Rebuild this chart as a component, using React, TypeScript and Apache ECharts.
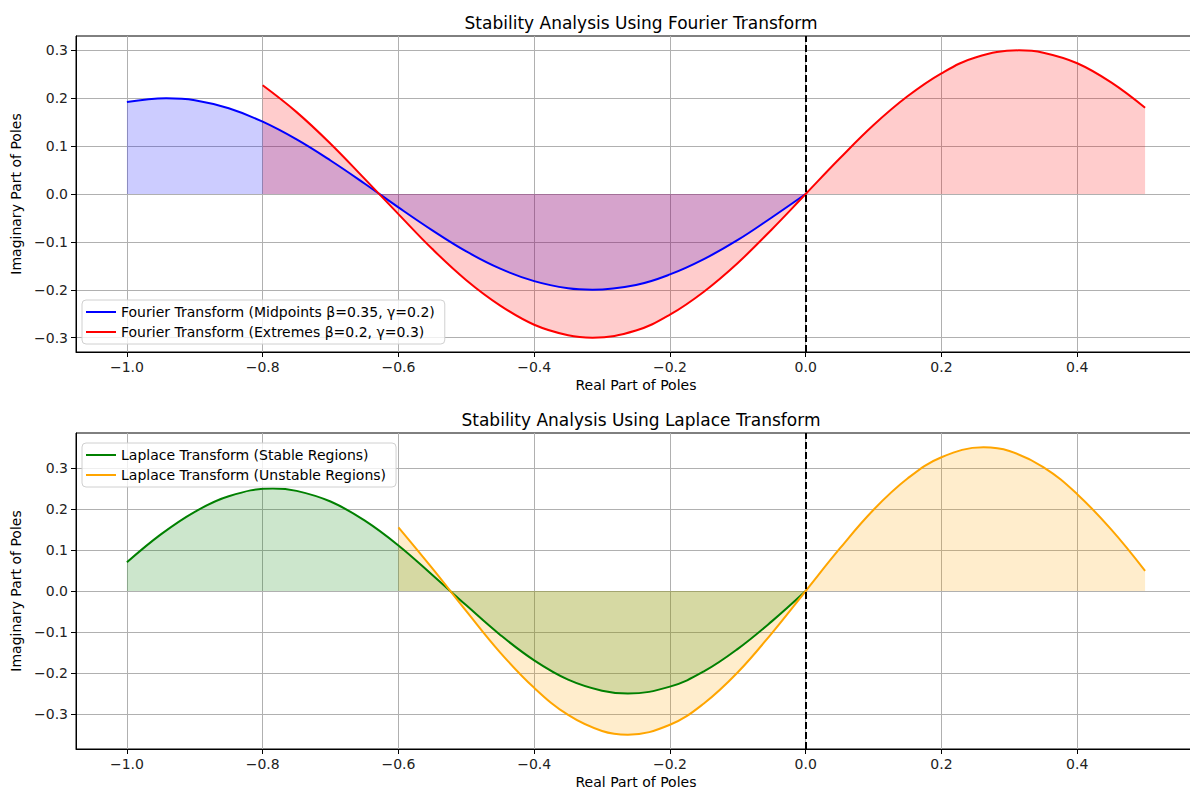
import React, { useEffect, useRef } from "react";
import * as echarts from "echarts";

// ---- Data ----
const xTicks = [-1.0, -0.8, -0.6, -0.4, -0.2, 0.0, 0.2, 0.4];
const yTicksTop = [-0.3, -0.2, -0.1, 0.0, 0.1, 0.2, 0.3];
const yTicksBottom = [-0.3, -0.2, -0.1, 0.0, 0.1, 0.2, 0.3];

const midX = [-1.0, -0.942, -0.9, -0.85, -0.8, -0.75, -0.7, -0.65, -0.6, -0.55, -0.5, -0.45, -0.4, -0.35, -0.314, -0.25, -0.2, -0.15, -0.1, -0.05, 0.0];
const midY = [0.192, 0.2, 0.196, 0.179, 0.151, 0.114, 0.07, 0.022, -0.028, -0.076, -0.12, -0.156, -0.182, -0.197, -0.2, -0.19, -0.168, -0.136, -0.096, -0.049, 0.0];

const extX = [-0.8, -0.75, -0.7, -0.65, -0.6, -0.55, -0.5, -0.45, -0.4, -0.35, -0.314, -0.25, -0.2, -0.15, -0.1, -0.05, 0.0, 0.05, 0.1, 0.15, 0.2, 0.25, 0.314, 0.35, 0.4, 0.45, 0.5];
const extY = [0.227, 0.171, 0.105, 0.032, -0.042, -0.115, -0.18, -0.233, -0.273, -0.295, -0.3, -0.285, -0.252, -0.204, -0.144, -0.074, 0.0, 0.074, 0.144, 0.204, 0.252, 0.285, 0.3, 0.295, 0.273, 0.233, 0.18];

const stableX = [-1.0, -0.95, -0.9, -0.85, -0.785, -0.75, -0.7, -0.65, -0.6, -0.55, -0.5, -0.45, -0.4, -0.35, -0.3, -0.262, -0.2, -0.15, -0.1, -0.05, 0.0];
const stableY = [0.07, 0.138, 0.193, 0.231, 0.25, 0.244, 0.218, 0.172, 0.111, 0.039, -0.035, -0.107, -0.169, -0.216, -0.243, -0.25, -0.233, -0.196, -0.141, -0.074, 0.0];

const unstableX = [-0.6, -0.55, -0.5, -0.45, -0.4, -0.35, -0.3, -0.262, -0.2, -0.15, -0.1, -0.05, 0.0, 0.05, 0.1, 0.15, 0.2, 0.262, 0.3, 0.35, 0.4, 0.45, 0.5];
const unstableY = [0.155, 0.055, -0.049, -0.15, -0.236, -0.302, -0.341, -0.35, -0.326, -0.274, -0.198, -0.103, 0.0, 0.103, 0.198, 0.274, 0.326, 0.35, 0.341, 0.302, 0.236, 0.15, 0.049];

const names = {
  mid: "Fourier Transform (Midpoints β=0.35, γ=0.2)",
  ext: "Fourier Transform (Extremes β=0.2, γ=0.3)",
  stable: "Laplace Transform (Stable Regions)",
  unstable: "Laplace Transform (Unstable Regions)",
};

const FONT = "DejaVu Sans";
const FS = 14;

const zip = (xs: number[], ys: number[]) => xs.map((x, i) => [x, ys[i]]);
const fmt = (v: number) => {
  const r = Math.round(v * 10) / 10;
  if (Math.abs(r) < 1e-9) return "0.0";
  return (r < 0 ? "\u2212" : "") + Math.abs(r).toFixed(1);
};

function xAxisCfg(gridIndex: number) {
  return {
    type: "value",
    gridIndex,
    min: -1.075,
    max: 0.575,
    name: "Real Part of Poles",
    nameLocation: "middle",
    nameGap: 26,
    nameTextStyle: { fontFamily: FONT, fontSize: FS, color: "#000" },
    axisLine: { show: true, onZero: false, lineStyle: { color: "#000", width: 1 } },
    axisTick: { show: true, length: 5, customValues: xTicks, lineStyle: { color: "#000", width: 1 } },
    axisLabel: { customValues: xTicks, margin: 8, fontFamily: FONT, fontSize: FS, color: "#222", formatter: fmt },
    splitLine: { show: true, lineStyle: { color: "#b0b0b0", width: 1 } },
  };
}

function yAxisCfg(gridIndex: number, lim: number, ticks: number[]) {
  return {
    type: "value",
    gridIndex,
    min: -lim,
    max: lim,
    name: "Imaginary Part of Poles",
    nameLocation: "middle",
    nameGap: 51,
    nameTextStyle: { fontFamily: FONT, fontSize: FS, color: "#000" },
    axisLine: { show: true, onZero: false, lineStyle: { color: "#000", width: 1 } },
    axisTick: { show: true, length: 5, customValues: ticks, lineStyle: { color: "#000", width: 1 } },
    axisLabel: { customValues: ticks, margin: 8, fontFamily: FONT, fontSize: FS, color: "#222", formatter: fmt },
    splitLine: { show: true, lineStyle: { color: "#b0b0b0", width: 1 } },
  };
}

function fillSeries(name: string, idx: number, data: number[][], color: string) {
  return {
    type: "line",
    name,
    xAxisIndex: idx,
    yAxisIndex: idx,
    data,
    smooth: 0.4,
    showSymbol: false,
    lineStyle: { width: 0, opacity: 0 },
    areaStyle: { color, opacity: 1 },
    z: 1,
    silent: true,
  };
}

function lineSeries(name: string, idx: number, data: number[][], color: string, extra: any = {}) {
  return {
    type: "line",
    name,
    xAxisIndex: idx,
    yAxisIndex: idx,
    data,
    smooth: 0.4,
    showSymbol: false,
    itemStyle: { color },
    lineStyle: { color, width: 2 },
    z: 3,
    ...extra,
  };
}

const vline = {
  markLine: {
    silent: true,
    symbol: ["none", "none"],
    label: { show: false },
    lineStyle: { color: "#000", width: 2, type: [7, 3] },
    data: [{ xAxis: 0 }],
  },
};

function legendCfg(data: string[], top: number) {
  return {
    data,
    orient: "vertical",
    left: 82,
    top,
    icon: "rect",
    itemWidth: 30,
    itemHeight: 2,
    itemGap: 4,
    padding: [4, 10, 4, 4],
    backgroundColor: "rgba(255,255,255,0.8)",
    borderColor: "#d0d0d0",
    borderWidth: 1,
    borderRadius: 4,
    textStyle: { fontFamily: FONT, fontSize: FS, color: "#000", lineHeight: 16 },
  };
}

export default function App() {
  const ref = useRef<HTMLDivElement>(null);
  useEffect(() => {
    if (!ref.current) return;
    const chart = echarts.init(ref.current, null, { renderer: "svg" });
    const option: any = {
      animation: false,
      backgroundColor: "#fff",
      textStyle: { fontFamily: FONT },
      title: [
        {
          text: "Stability Analysis Using Fourier Transform",
          left: 636,
          top: 9,
          textAlign: "center",
          textStyle: { fontFamily: FONT, fontSize: 17, fontWeight: "normal", color: "#000" },
        },
        {
          text: "Stability Analysis Using Laplace Transform",
          left: 636,
          top: 406,
          textAlign: "center",
          textStyle: { fontFamily: FONT, fontSize: 17, fontWeight: "normal", color: "#000" },
        },
      ],
      legend: [legendCfg([names.mid, names.ext], 300), legendCfg([names.stable, names.unstable], 443)],
      grid: [
        { left: 76, top: 36, width: 1120, height: 316, show: true, borderColor: "#000", borderWidth: 1, backgroundColor: "transparent" },
        { left: 76, top: 433, width: 1120, height: 316, show: true, borderColor: "#000", borderWidth: 1, backgroundColor: "transparent" },
      ],
      xAxis: [xAxisCfg(0), xAxisCfg(1)],
      yAxis: [yAxisCfg(0, 0.33, yTicksTop), yAxisCfg(1, 0.385, yTicksBottom)],
      series: [
        fillSeries("mid-fill", 0, zip(midX, midY), "rgba(0,0,255,0.2)"),
        fillSeries("ext-fill", 0, zip(extX, extY), "rgba(255,0,0,0.2)"),
        lineSeries(names.mid, 0, zip(midX, midY), "#0000ff", vline),
        lineSeries(names.ext, 0, zip(extX, extY), "#ff0000"),
        fillSeries("stable-fill", 1, zip(stableX, stableY), "rgba(0,128,0,0.2)"),
        fillSeries("unstable-fill", 1, zip(unstableX, unstableY), "rgba(255,165,0,0.2)"),
        lineSeries(names.stable, 1, zip(stableX, stableY), "#008000", vline),
        lineSeries(names.unstable, 1, zip(unstableX, unstableY), "#ffa500"),
      ],
    };
    chart.setOption(option);
    return () => chart.dispose();
  }, []);
  return (
    <div style={{ position: "fixed", left: 0, top: 0, width: 1190, height: 791, overflow: "hidden", background: "#fff" }}>
      <div ref={ref} style={{ width: 1210, height: 791 }} />
    </div>
  );
}
